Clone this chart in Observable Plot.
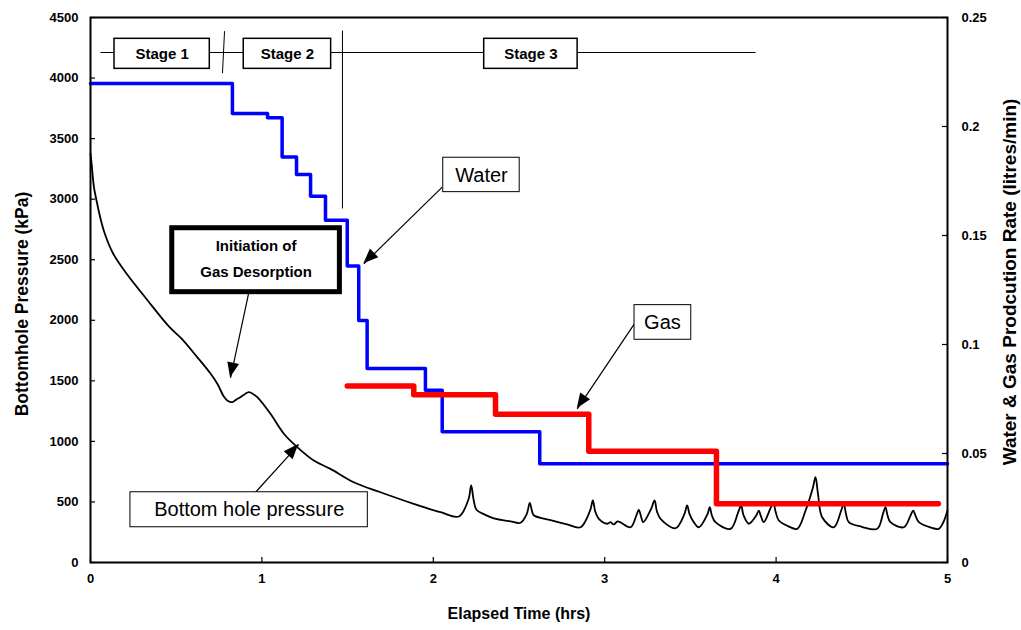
<!DOCTYPE html>
<html>
<head>
<meta charset="utf-8">
<script src="https://cdn.jsdelivr.net/npm/d3@7"></script>
<script src="https://cdn.jsdelivr.net/npm/@observablehq/plot@0.6"></script>
<style>
  html, body { margin: 0; padding: 0; background: #fff; }
</style>
</head>
<body>
<div id="chart"></div>
<script>
// ---------- data ----------
const xTicks = [0, 1, 2, 3, 4, 5];
const leftTicks = [0, 500, 1000, 1500, 2000, 2500, 3000, 3500, 4000, 4500];
const rightTicks = [0, 0.05, 0.1, 0.15, 0.2, 0.25];
const rightTickLabels = ["0", "0.05", "0.1", "0.15", "0.2", "0.25"];

// Bottom hole pressure (kPa) vs elapsed time (hrs)
const bhpTime = [0, 0.006, 0.02, 0.035, 0.06, 0.083, 0.132, 0.21, 0.33, 0.46, 0.53, 0.62, 0.70, 0.74, 0.778, 0.80, 0.827,
  0.85, 0.875, 0.90, 0.924, 0.95, 0.973, 1.05, 1.128, 1.206, 1.303, 1.40, 1.536, 1.692, 1.886, 2.042, 2.149,
  2.205, 2.221, 2.235, 2.252, 2.30, 2.353, 2.45, 2.509, 2.545, 2.563, 2.575, 2.586, 2.684, 2.78, 2.859,
  2.915, 2.931, 2.945, 2.966, 3.015, 3.034, 3.053, 3.076, 3.151, 3.185, 3.199, 3.212, 3.225, 3.27, 3.291, 3.305, 3.326,
  3.413, 3.465, 3.481, 3.495, 3.52, 3.549, 3.60, 3.613, 3.625, 3.646, 3.734, 3.78, 3.796, 3.81, 3.841, 3.885, 3.899,
  3.912, 3.928, 3.965, 3.983, 3.997, 4.016, 4.07, 4.123, 4.172, 4.215, 4.23, 4.245, 4.269, 4.337, 4.38, 4.395, 4.408,
  4.424, 4.50, 4.59, 4.625, 4.638, 4.65, 4.667, 4.745, 4.785, 4.80, 4.815, 4.833, 4.90, 4.949, 4.975, 5.0];
const bhpKPa = [3377, 3300, 3100, 2990, 2830, 2717, 2551, 2386, 2170, 1945, 1850, 1700, 1560, 1476, 1370, 1335, 1324,
  1345, 1365, 1390, 1406, 1390, 1365, 1228, 1063, 953, 842, 773, 663, 580, 484, 415, 380,
  520, 636, 520, 435, 395, 365, 340, 328, 400, 493, 430, 390, 350, 315, 291,
  430, 512, 420, 361, 320, 333, 314, 339, 291, 390, 435, 380, 333, 440, 512, 420, 361,
  283, 400, 471, 400, 333, 291, 400, 457, 390, 333, 278, 420, 471, 390, 320, 390, 429,
  380, 333, 440, 498, 420, 347, 300, 278, 429, 620, 704, 560, 374, 291, 430, 485, 400,
  333, 295, 278, 410, 457, 390, 333, 291, 390, 429, 380, 333, 290, 278, 330, 429];

// Water production rate (litres/min), step changes
const waterTime = [0, 0.828, 1.033, 1.118, 1.202, 1.284, 1.371, 1.498, 1.565, 1.614, 1.954, 2.052, 2.621, 5.0];
const waterRate = [0.2197, 0.206, 0.204, 0.186, 0.178, 0.168, 0.157, 0.136, 0.111, 0.089, 0.079, 0.060, 0.0453, 0.0453];

// Gas production rate (litres/min), step changes
const gasTime = [1.498, 1.886, 2.363, 2.907, 3.652, 4.947];
const gasRate = [0.081, 0.077, 0.068, 0.051, 0.027, 0.027];

// Stage annotations (data coordinates: hrs, kPa)
const stageNames = ["Stage 1", "Stage 2", "Stage 3"];
const stageBoxX1 = [0.140, 0.894, 2.297];
const stageBoxX2 = [0.696, 1.404, 2.842];
const stageBoxY1 = 4076, stageBoxY2 = 4324, stageTextY = 4200;
const stageLine = {x1: 0.058, x2: 3.88, y: 4211};
const sepX1 = [0.782, 1.470], sepX2 = [0.770, 1.470];
const sepY1 = [4387, 4393], sepY2 = [4040, 2923];

// Callouts
const calloutText = ["Water", "Gas", "Bottom hole pressure"];
const calloutX = [2.281, 3.337, 0.926];
const calloutY = [3195, 1982, 438];
const calloutBoxX1 = [2.058, 3.174, 0.233];
const calloutBoxX2 = [2.504, 3.505, 1.618];
const calloutBoxY1 = [3058, 1839, 291];
const calloutBoxY2 = [3342, 2125, 580];

const initText = ["Initiation of", "Gas Desorption"];
const initX = [0.966, 0.966];
const initY = [2612, 2397];
const initBox = {x1: 0.477, x2: 1.455, y1: 2232, y2: 2760};

// arrows: from callout to target
const arrowX1 = [2.052, 3.174, 0.924, 0.963];
const arrowY1 = [3099, 1973, 2232, 580];
const arrowX2 = [1.595, 2.840, 0.817, 1.215];
const arrowY2 = [2466, 1269, 1525, 974];

// ---------- helpers ----------
const rateToKPa = 4500 / 0.25;
const bhp = bhpTime.map((t, i) => ({t, p: bhpKPa[i]}));
const water = waterTime.map((t, i) => ({t, r: waterRate[i]}));
const gas = gasTime.map((t, i) => ({t, r: gasRate[i]}));
const idx = (a) => a.map((_, i) => i);
const font = "'Liberation Sans', Arial, Helvetica, sans-serif";

function arrowHeads(index, scales) {
  const x = scales.x, y = scales.y;
  const g = d3.create("svg:g");
  for (let i = 0; i < arrowX1.length; i++) {
    const x1 = x(arrowX1[i]), y1 = y(arrowY1[i]), x2 = x(arrowX2[i]), y2 = y(arrowY2[i]);
    const a = Math.atan2(y2 - y1, x2 - x1);
    const L = 15, w = 6;
    const bx = x2 - L * Math.cos(a), by = y2 - L * Math.sin(a);
    const pts = [[x2, y2], [bx + w * Math.sin(a), by - w * Math.cos(a)], [bx - w * Math.sin(a), by + w * Math.cos(a)]];
    g.append("polygon").attr("points", pts.map(p => p.join(",")).join(" ")).attr("fill", "black");
  }
  return g.node();
}

const chart = Plot.plot({
  width: 1021,
  height: 630,
  marginLeft: 90,
  marginRight: 74,
  marginTop: 17,
  marginBottom: 68,
  style: {fontFamily: font, background: "white", color: "black"},
  x: {domain: [0, 5]},
  y: {domain: [0, 4500]},
  marks: [
    // axes (labels only, inward ticks drawn separately)
    Plot.axisX({ticks: xTicks, tickSize: 0, tickPadding: 11, tickFormat: d3.format("d"), fontSize: 13, fontWeight: "bold", label: null}),
    Plot.axisY({ticks: leftTicks, tickSize: 0, tickPadding: 12, tickFormat: d3.format("d"), fontSize: 13, fontWeight: "bold", label: null}),
    Plot.axisY({anchor: "right", ticks: rightTicks.map(r => r * rateToKPa), tickSize: 0, tickPadding: 14,
      tickFormat: d => rightTickLabels[Math.round(d / (0.05 * rateToKPa))], fontSize: 13, fontWeight: "bold", label: null}),
    Plot.tickY(leftTicks, {y: d => d, insetRight: 852, stroke: "black", strokeWidth: 1.2}),
    Plot.tickY(rightTicks, {y: d => d * rateToKPa, insetLeft: 852, stroke: "black", strokeWidth: 1.2}),
    Plot.tickX(xTicks, {x: d => d, insetTop: 540, stroke: "black", strokeWidth: 1.2}),
    // axis titles
    Plot.text(["Bottomhole Pressure (kPa)"], {frameAnchor: "left", textAnchor: "middle", dx: -68, dy: 14, rotate: -90, text: d => d, fontSize: 17.5, fontWeight: "bold"}),
    Plot.text(["Elapsed Time (hrs)"], {frameAnchor: "bottom", textAnchor: "middle", dy: 56, text: d => d, fontSize: 16, fontWeight: "bold"}),
    Plot.text(["Water & Gas Prodcution Rate (litres/min)"], {frameAnchor: "right", textAnchor: "middle", dx: 62, dy: -8, rotate: -90, text: d => d, fontSize: 19, fontWeight: "bold"}),

    // data series
    Plot.line(bhp, {x: "t", y: "p", curve: "catmull-rom", stroke: "black", strokeWidth: 1.8, strokeLinejoin: "round"}),
    Plot.line(water, {x: "t", y: d => d.r * rateToKPa, curve: "step-after", stroke: "#0000ff", strokeWidth: 3.5}),
    Plot.line(gas, {x: "t", y: d => d.r * rateToKPa, curve: "step-after", stroke: "#ff0000", strokeWidth: 5.5, strokeLinecap: "round"}),

    // stage annotations
    Plot.link([stageLine], {x1: "x1", x2: "x2", y1: "y", y2: "y", stroke: "black", strokeWidth: 1}),
    Plot.link(idx(sepX1), {x1: i => sepX1[i], x2: i => sepX2[i], y1: i => sepY1[i], y2: i => sepY2[i], stroke: "black", strokeWidth: 1}),
    Plot.rect(idx(stageNames), {x1: i => stageBoxX1[i], x2: i => stageBoxX2[i], y1: () => stageBoxY1, y2: () => stageBoxY2, fill: "white", stroke: "black", strokeWidth: 1.5}),
    Plot.text(idx(stageNames), {x: i => (stageBoxX1[i] + stageBoxX2[i]) / 2, y: () => stageTextY, text: i => stageNames[i], fontSize: 15, fontWeight: "bold"}),

    // callouts
    Plot.link(idx(arrowX1), {x1: i => arrowX1[i], y1: i => arrowY1[i], x2: i => arrowX2[i], y2: i => arrowY2[i], stroke: "black", strokeWidth: 1.2}),
    arrowHeads,
    Plot.rect(idx(calloutText), {x1: i => calloutBoxX1[i], x2: i => calloutBoxX2[i], y1: i => calloutBoxY1[i], y2: i => calloutBoxY2[i], fill: "white", stroke: "black", strokeWidth: 1}),
    Plot.text(idx(calloutText), {x: i => calloutX[i], y: i => calloutY[i], text: i => calloutText[i], fontSize: 20}),
    Plot.rect([initBox], {x1: "x1", x2: "x2", y1: "y1", y2: "y2", fill: "white", stroke: "black", strokeWidth: 5}),
    Plot.text(idx(initText), {x: i => initX[i], y: i => initY[i], text: i => initText[i], fontSize: 15, fontWeight: "bold"}),

    Plot.frame({stroke: "black", strokeWidth: 2})
  ]
});
document.getElementById("chart").append(chart);
</script>
</body>
</html>
